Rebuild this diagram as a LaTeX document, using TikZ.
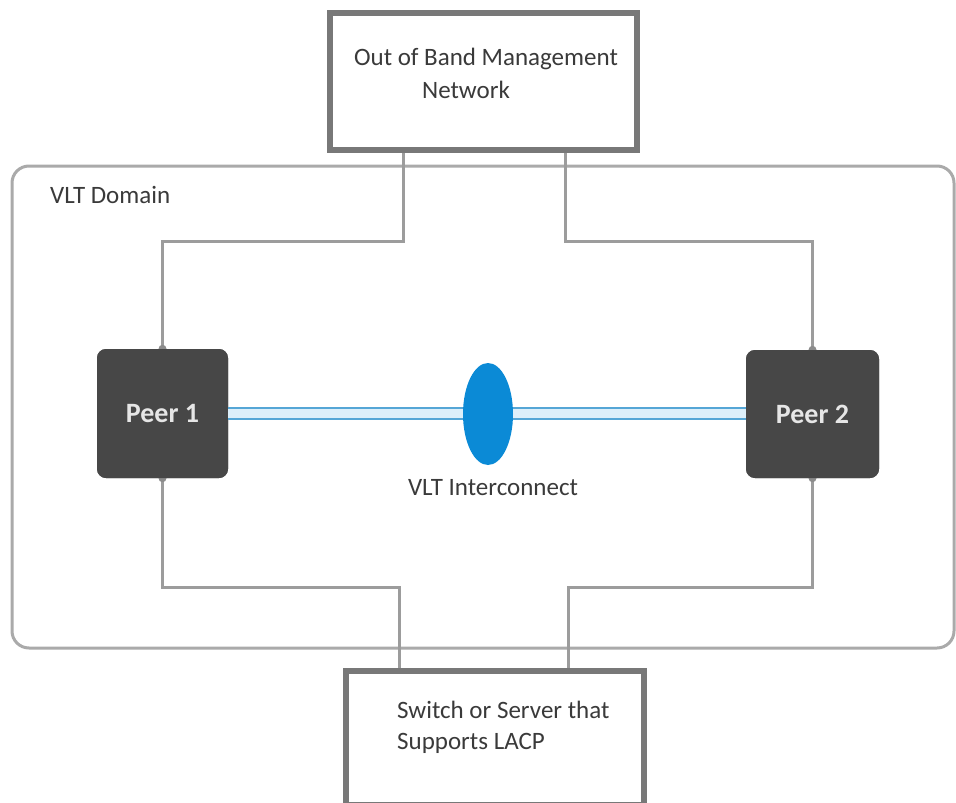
\documentclass[tikz,border=0pt]{standalone}
\usepackage{fontspec}
\setmainfont{Carlito}
\usetikzlibrary{shapes.geometric}
\definecolor{wirec}{HTML}{9C9C9C}
\definecolor{domainc}{HTML}{AAAAAA}
\definecolor{boxc}{HTML}{787878}
\definecolor{peerc}{HTML}{474747}
\definecolor{peertext}{HTML}{E6E6E6}
\definecolor{textc}{HTML}{3A3A3A}
\definecolor{linkc}{HTML}{55A6D6}
\definecolor{bandc}{HTML}{DDEFFA}
\definecolor{lagc}{HTML}{0B8AD6}
\definecolor{dotc}{HTML}{8C8C8C}
\tikzset{
  domainbox/.style={draw=domainc, line width=3pt, rounded corners=17pt},
  wire/.style={draw=wirec, line width=3pt},
  endbox/.style={draw=boxc, fill=white, line width=6pt, inner sep=0pt},
  peerbox/.style={fill=peerc, rounded corners=9pt, inner sep=0pt,
    text=peertext, font=\fontsize{28}{30}\selectfont\bfseries},
  label/.style={text=textc, font=\fontsize{25}{31}\selectfont, inner sep=0pt},
  link/.style={draw=linkc, line width=2.4pt},
  portdot/.style={fill=dotc},
}
\begin{document}
\begin{tikzpicture}[x=1pt,y=-1pt]
\useasboundingbox[fill=white] (0,0) rectangle (956,803);

% VLT domain frame
\draw[domainbox] (12,166) rectangle (954,648);

% peers (placed first so wiring can refer to them)
\node[peerbox, minimum width=131pt, minimum height=129pt] (peer1) at (162.5,413.5) {Peer 1};
\node[peerbox, minimum width=133pt, minimum height=128pt] (peer2) at (812.5,414) {Peer 2};

% end systems
\node[endbox, minimum width=307pt, minimum height=137pt] (oob) at (483.5,81.5) {};
\node[endbox, minimum width=298pt, minimum height=134pt] (lacp) at (495,738) {};

% management and LACP wiring
\draw[wire] (oob.south -| 403,0) -- (403,241) -| (peer1.north);
\draw[wire] (oob.south -| 565,0) -- (565,241) -| (peer2.north);
\draw[wire] (peer1.south) |- (399,587) -- (lacp.north -| 399,0);
\draw[wire] (peer2.south) |- (568,587) -- (lacp.north -| 568,0);

% redraw end systems over the wire ends
\node[endbox, minimum width=307pt, minimum height=137pt] at (oob) {};
\node[endbox, minimum width=298pt, minimum height=134pt] at (lacp) {};

% port markers
\fill[portdot] (peer1.north) circle (4pt);
\fill[portdot] (peer1.south) circle (4pt);
\fill[portdot] (peer2.north) circle (4pt);
\fill[portdot] (peer2.south) circle (4pt);

% peers on top
\node[peerbox, minimum width=131pt, minimum height=129pt] at (peer1) {Peer 1};
\node[peerbox, minimum width=133pt, minimum height=128pt] at (peer2) {Peer 2};

% VLT interconnect
\fill[bandc] (peer1.east |- 0,408) rectangle (peer2.west |- 0,419);
\draw[link] (peer1.east |- 0,408) -- (peer2.west |- 0,408);
\draw[link] (peer1.east |- 0,419) -- (peer2.west |- 0,419);
\node[ellipse, fill=lagc, minimum width=50pt, minimum height=102pt, inner sep=0pt] (lag) at (488,414) {};

% labels
\node[label, anchor=west] (domainlbl) at (50,195) {VLT Domain};
\node[label] (lagl) at (493,488) {VLT Interconnect};
\node[label] (oobl1) at (486,59) {Out of Band Management};
\node[label] (oobl2) at (466,90) {Network};
\node[label, anchor=north west, align=left] (lacpl) at (397,701) {Switch or Server that\\Supports LACP};
\end{tikzpicture}
\end{document}
